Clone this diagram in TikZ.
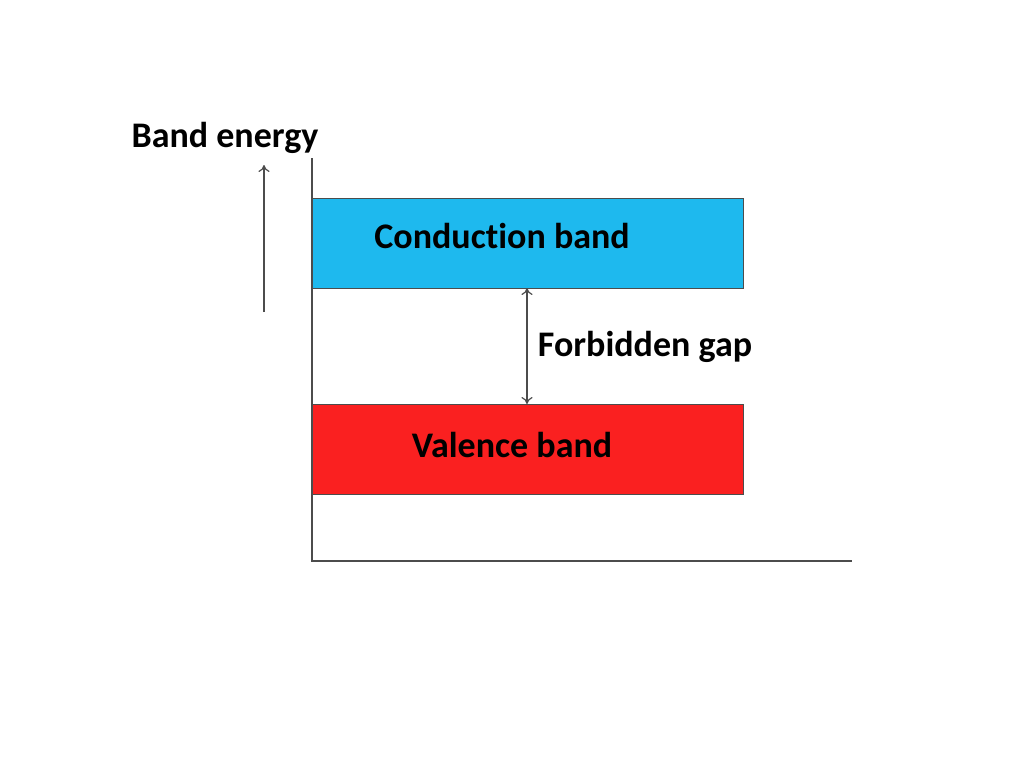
\documentclass[tikz,border=0pt]{standalone}
\usepackage{fontspec}
\setmainfont{Carlito}[Ligatures={NoCommon,NoRare}]
\usetikzlibrary{positioning,arrows.meta}
\definecolor{condblue}{RGB}{30,185,238}
\definecolor{valred}{RGB}{250,32,32}
\tikzstyle{band}=[draw=black!70, minimum width=431pt, minimum height=90pt, inner sep=0pt]
\tikzstyle{label}=[font=\fontsize{36}{42}\selectfont\bfseries, inner sep=0pt]
\tikzstyle{axis}=[-, draw=black!70, line width=1.2pt]
\tikzstyle{arrowline}=[draw=black!70, line width=1.2pt, >={To[length=7pt,width=11pt]}]
\begin{document}
\begin{tikzpicture}[x=1pt, y=-1pt]
	\useasboundingbox (0,0) rectangle (1024,768);
	% bands
	\node [style=band, fill=condblue, anchor=north west] (cond) at (312,198) {};
	\node [style=band, fill=valred, anchor=north west] (val) at (312,404) {};
	\node [style=label] (condtext) at (502,236) {Conduction band};
	\node [style=label] (valtext) at (512,445) {Valence band};
	% axes
	\coordinate (origin) at (312,561);
	\coordinate (ytop) at (312,158);
	\coordinate (xend) at (852,561);
	\draw [style=axis] (ytop) -- (origin) -- (xend);
	% energy arrow
	\node [style=label] (energy) at (225,138) {Band energy};
	\coordinate (ebot) at (264,312);
	\coordinate (etop) at (264,165);
	\draw [->, style=arrowline] (ebot) -- (etop);
	% gap
	\coordinate (gtop) at (527,288);
	\coordinate (gbot) at (527,404);
	\draw [<->, style=arrowline] (gtop) -- (gbot);
	\node [style=label] (gap) at (645,347) {Forbidden gap};
\end{tikzpicture}
\end{document}
